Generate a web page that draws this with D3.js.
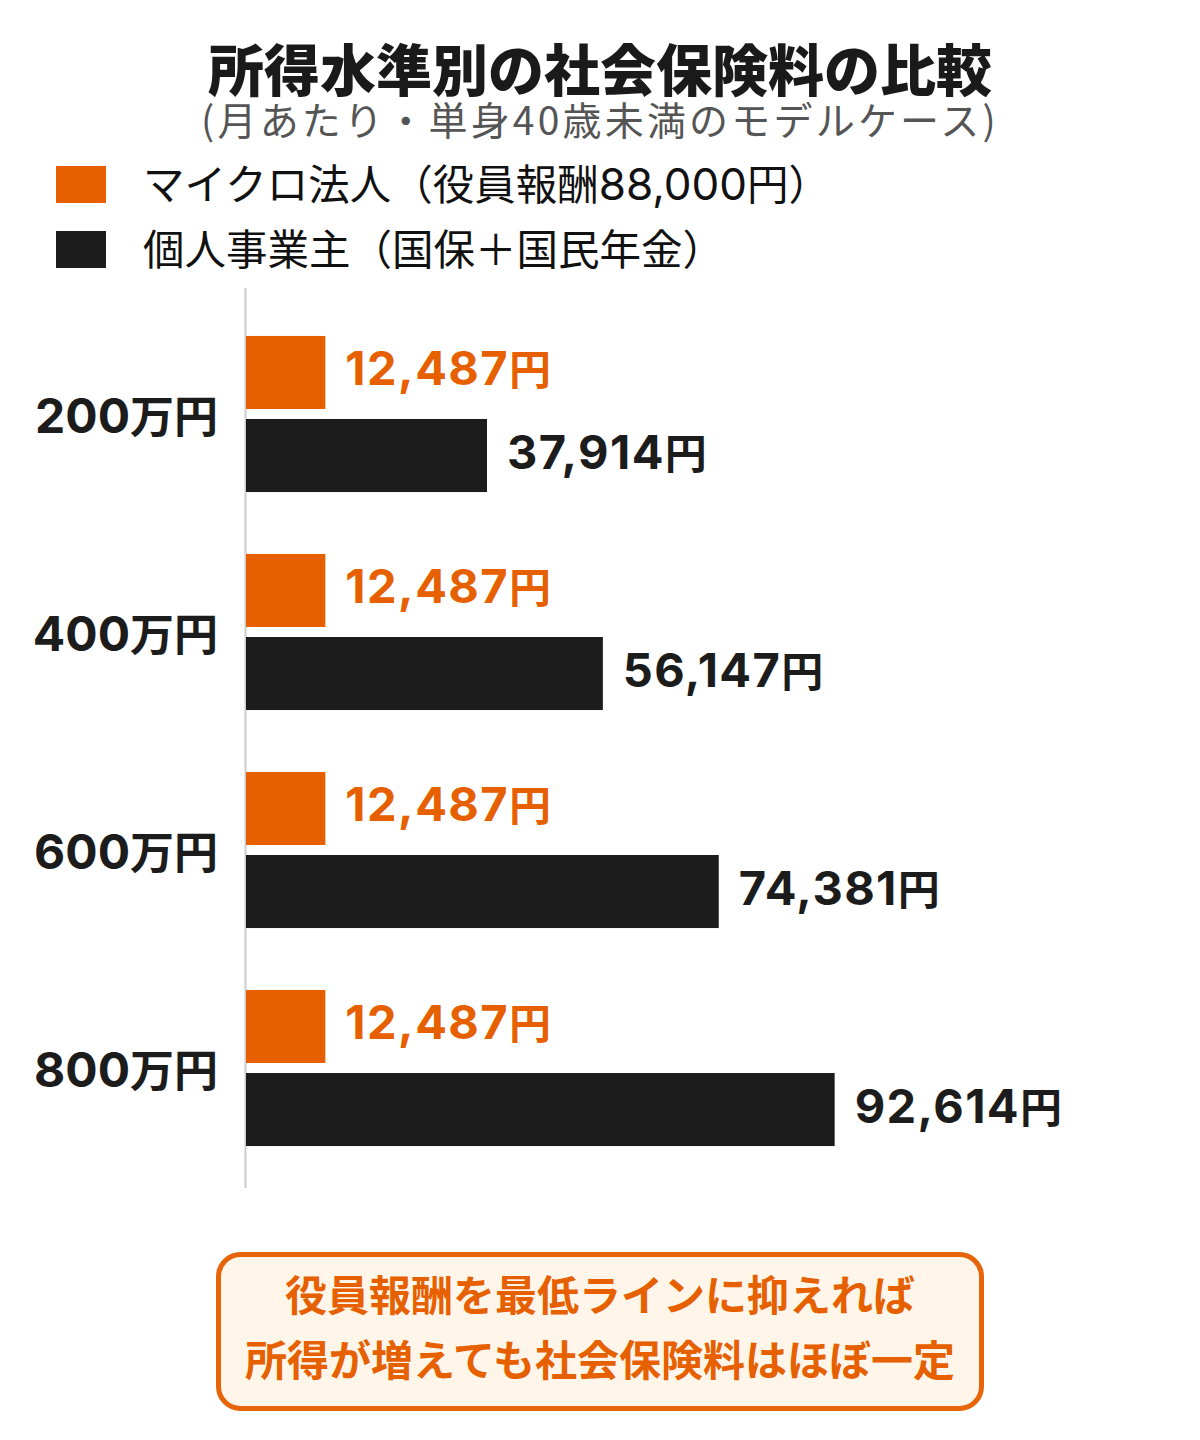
<!DOCTYPE html>
<html><head><meta charset="utf-8">
<script src="https://cdn.jsdelivr.net/npm/d3@7"></script>
<style>body{margin:0;background:#fff}svg{display:block}</style>
</head><body><svg id="c" width="1200" height="1440"></svg>
<script>
const title = "所得水準別の社会保険料の比較";
const subtitle = "(月あたり・単身40歳未満のモデルケース)";
const categories = ["200万円","400万円","600万円","800万円"];
const seriesKeys = ["corp","indiv"];
const seriesNames = ["マイクロ法人（役員報酬88,000円）","個人事業主（国保＋国民年金）"];
const corpValues = [12487,12487,12487,12487];
const indivValues = [37914,56147,74381,92614];
const noteLines = ["役員報酬を最低ラインに抑えれば","所得が増えても社会保険料はほぼ一定"];

const ORANGE = "#E66000", BLACK = "#1c1c1c";
const colors = {corp: ORANGE, indiv: BLACK};
const labelColors = {corp: ORANGE, indiv: "#1c1c1c"};
const JP = "'Noto Sans CJK JP', sans-serif";
const NUM = "Inter, 'Noto Sans CJK JP', sans-serif";

const svg = d3.select("#c");
svg.append("rect").attr("width",1200).attr("height",1440).attr("fill","#fff");

// Title
svg.append("text").attr("x",600).attr("y",91).attr("text-anchor","middle")
  .attr("font-family",JP).attr("font-weight",900).attr("font-size",56).attr("fill","#1a1a1a").text(title);
svg.append("text").attr("x",600).attr("y",135).attr("text-anchor","middle")
  .attr("font-family",JP).attr("font-weight",400).attr("font-size",39).attr("letter-spacing",3.2)
  .attr("fill","#555").text(subtitle);

// Legend (split digits so they can use a wider numeral face)
const legend = svg.append("g");
seriesKeys.forEach((k,i)=>{
  const g = legend.append("g").attr("transform",`translate(0,${i*65})`);
  g.append("rect").attr("x",56).attr("y",166).attr("width",50).attr("height",37).attr("fill",colors[k]);
  const t = g.append("text").attr("x",143).attr("y",200).attr("font-family",JP).attr("font-size",41.5)
    .attr("fill","#111");
  seriesNames[i].split(/([0-9,]+)/).filter(s=>s.length).forEach(part=>{
    const sp = t.append("tspan").text(part);
    if (/^[0-9,]+$/.test(part)) sp.attr("font-family",NUM).attr("font-size",44);
  });
});

// Scales
const data = categories.map((c,i)=>({cat:c, corp:corpValues[i], indiv:indivValues[i]}));
const y0 = d3.scaleBand().domain(categories).range([305,1177]).paddingInner(0.284).paddingOuter(0.142);
const y1 = d3.scaleBand().domain(seriesKeys).range([0,y0.bandwidth()]).paddingInner(0.1205);
const x = d3.scaleLinear().domain([0,100000]).range([246,881.6]);

// axis line
svg.append("line").attr("x1",245.5).attr("x2",245.5).attr("y1",288).attr("y2",1188)
  .attr("stroke","#cccccc").attr("stroke-width",2);

const groups = svg.append("g").selectAll("g").data(data).join("g")
  .attr("transform",d=>`translate(0,${y0(d.cat)})`);

groups.selectAll("rect").data(d=>seriesKeys.map(k=>({k,v:d[k]}))).join("rect")
  .attr("x",x(0)).attr("y",d=>y1(d.k)).attr("width",d=>x(d.v)-x(0)).attr("height",y1.bandwidth())
  .attr("fill",d=>colors[d.k]);

const fmt = d3.format(",");
const vl = groups.selectAll("text.val").data(d=>seriesKeys.map(k=>({k,v:d[k]}))).join("text")
  .attr("class","val")
  .attr("x",d=>x(d.v)+20).attr("y",d=>y1(d.k)+y1.bandwidth()/2+13)
  .attr("font-family",NUM).attr("font-weight",700).attr("fill",d=>labelColors[d.k]);
vl.append("tspan").attr("font-size",47).attr("letter-spacing",1.4).text(d=>fmt(d.v));
vl.append("tspan").attr("font-family",JP).attr("font-size",42).text("円");

// category labels
const cl = groups.append("text").attr("x",218).attr("y",y0.bandwidth()/2+19).attr("text-anchor","end")
  .attr("font-family",NUM).attr("font-weight",700).attr("fill","#1c1c1c");
cl.append("tspan").attr("font-size",48).text(d=>d.cat.replace("万円",""));
cl.append("tspan").attr("font-family",JP).attr("font-size",44).text("万円");

// Note box
svg.append("rect").attr("x",218.5).attr("y",1254.5).attr("width",763).attr("height",154).attr("rx",22)
  .attr("fill","#FFF5E9").attr("stroke","#E86408").attr("stroke-width",5);
noteLines.forEach((t,i)=>{
  svg.append("text").attr("x",600).attr("y",1311+i*65).attr("text-anchor","middle")
    .attr("font-family",JP).attr("font-weight",700).attr("font-size",42).attr("fill","#E66000").text(t);
});
</script></body></html>
